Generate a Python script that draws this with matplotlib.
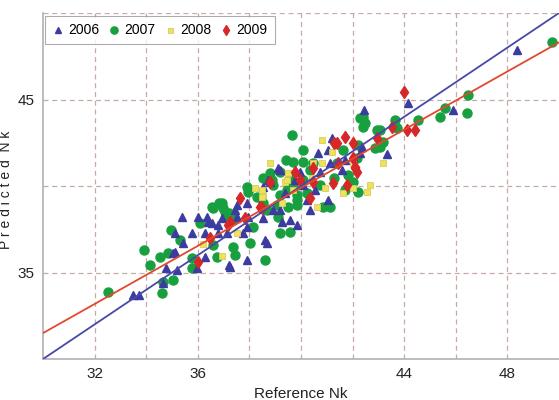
import matplotlib
matplotlib.use("Agg")
import matplotlib.pyplot as plt
import numpy as np

# ---- data ----
x2006 = [33.49, 33.72, 34.65, 34.77, 35.19, 35.04, 35.39, 35.78, 35.43, 35.12, 36.36, 36.40,
         36.28, 36.78, 36.78, 37.21, 37.91, 38.68, 37.13, 37.75, 37.52, 37.95, 38.53, 38.60,
         35.12, 36.28, 35.97, 37.25, 39.11, 38.80, 38.53, 37.91, 37.52, 37.44, 36.01, 36.55,
         36.94, 39.19, 39.57, 37.91, 40.66, 41.05, 39.19, 38.72, 40.74, 41.12, 41.59, 42.02,
         42.29, 43.33, 40.23, 40.35, 39.38, 41.05, 38.91, 40.08, 42.44, 44.15, 45.89, 48.37,
         41.20, 42.36, 39.96, 39.77, 40.55, 41.71, 39.84, 39.26]
y2006 = [33.70, 33.70, 34.39, 35.26, 35.14, 36.13, 38.21, 37.28, 36.71, 37.28, 38.21, 37.92,
         37.28, 37.75, 37.28, 35.43, 35.72, 36.71, 37.28, 37.28, 38.21, 38.21, 38.15, 36.88,
         36.18, 35.90, 35.26, 35.32, 41.04, 40.23, 39.94, 39.02, 38.90, 38.61, 38.21, 37.86,
         38.15, 38.61, 38.03, 37.63, 41.91, 42.08, 40.92, 40.35, 40.81, 41.33, 40.92, 41.68,
         41.91, 41.85, 39.19, 38.61, 39.60, 39.19, 38.61, 40.06, 44.39, 44.80, 44.39, 47.86,
         42.77, 42.25, 40.81, 40.35, 39.77, 41.50, 37.75, 37.92]

x2007 = [32.52, 33.92, 34.15, 34.53, 34.84, 34.65, 34.61, 35.04, 34.96, 35.31, 35.78, 35.78,
         36.09, 36.59, 36.74, 37.36, 37.44, 38.02, 38.14, 38.60, 36.94, 36.55, 37.05, 37.13,
         39.65, 39.42, 39.69, 38.80, 37.91, 37.95, 38.29, 36.82, 36.98, 36.59, 37.21, 37.36,
         38.53, 38.68, 39.07, 39.11, 39.46, 39.84, 40.08, 40.08, 40.47, 39.19, 39.57, 38.53,
         41.40, 41.63, 42.29, 42.40, 42.95, 43.06, 41.82, 42.02, 38.91, 39.69, 40.08, 39.19,
         39.84, 40.23, 39.50, 39.84, 40.85, 41.12, 42.21, 42.40, 42.48, 43.64, 43.72, 43.06,
         43.18, 44.53, 45.39, 45.58, 42.87, 42.21, 42.17, 46.47, 46.43, 49.73, 38.88, 39.57,
         39.19, 40.35, 40.74, 41.28, 41.71]
y2007 = [33.87, 36.30, 35.43, 35.90, 36.13, 34.45, 33.82, 34.57, 37.46, 36.88, 35.84, 35.26,
         37.86, 36.59, 35.90, 36.47, 36.01, 36.71, 37.63, 35.72, 39.02, 38.79, 38.50, 38.21,
         42.95, 41.50, 41.39, 40.75, 39.94, 39.65, 39.36, 39.02, 38.73, 38.73, 38.44, 38.09,
         39.02, 38.61, 38.90, 38.21, 39.77, 39.19, 42.08, 41.39, 41.33, 40.81, 40.46, 40.46,
         41.33, 42.08, 43.93, 43.41, 43.24, 42.25, 40.64, 40.23, 40.06, 40.06, 40.35, 39.48,
         39.48, 39.60, 38.79, 38.90, 38.79, 38.79, 39.65, 43.99, 43.64, 43.82, 43.35, 43.24,
         42.54, 43.82, 43.99, 44.51, 42.20, 42.37, 41.62, 45.26, 44.22, 48.32, 40.35, 37.34,
         37.28, 40.92, 40.06, 40.46, 39.77]

x2008 = [40.81, 41.20, 38.80, 39.38, 40.47, 40.81, 40.43, 42.02, 42.67, 42.56, 43.18, 41.63,
         42.02, 38.53, 40.93, 40.62, 39.69, 38.49, 38.49, 38.22, 39.46, 39.50, 39.26, 36.94,
         36.20, 37.52]
y2008 = [42.66, 41.97, 41.33, 40.23, 41.33, 41.33, 40.46, 41.33, 40.06, 39.65, 41.33, 39.60,
         39.88, 39.48, 39.88, 38.79, 39.77, 39.77, 39.36, 39.88, 40.35, 40.75, 39.02, 35.95,
         36.65, 37.28]

x2009 = [36.01, 36.47, 37.17, 37.83, 38.41, 41.40, 41.71, 42.02, 39.77, 40.47, 41.43, 42.09,
         42.17, 38.80, 41.24, 41.78, 39.96, 40.47, 40.35, 43.99, 44.11, 44.42, 43.53, 42.95,
         41.28, 42.02, 42.09, 37.64, 38.49, 37.25]
y2009 = [35.61, 36.99, 37.75, 38.15, 38.79, 42.49, 42.83, 42.49, 40.81, 41.04, 41.33, 41.04,
         40.81, 40.23, 40.17, 40.06, 40.35, 40.23, 39.31, 45.43, 43.24, 43.24, 43.41, 42.77,
         42.49, 41.62, 41.10, 39.31, 38.73, 37.92]

years = ["2006", "2007", "2008", "2009"]
fit_slope = 0.84
fit_intercept = 6.3
x_range = [30, 50]
x_tick_vals = [32, 34, 36, 38, 40, 42, 44, 46, 48]
x_tick_labels = ["32", "", "36", "", "", "", "44", "", "48"]
y_tick_vals = [35, 40, 45, 50]
y_tick_labels = ["35", "", "45", ""]

plt.rcParams['font.family'] = ['Liberation Sans', 'DejaVu Sans']

fig = plt.figure(figsize=(5.59, 4.0), dpi=100)
ax = fig.add_axes([0.077, 0.1025, 0.923, 0.865])

# reference lines
xr = np.array(x_range, dtype=float)
ax.plot(xr, xr, color="#4848a8", lw=1.3, zorder=4)
ax.plot(xr, fit_slope * xr + fit_intercept, color="#e2482e", lw=1.3, zorder=4)

ax.plot(x2006, y2006, linestyle="none", marker="^", ms=6, color="#3c3ca0",
        mec="#3c3ca0", label=years[0], zorder=3)
ax.plot(x2007, y2007, linestyle="none", marker="o", ms=6.5, color="#18a040",
        mec="#18a040", label=years[1], zorder=2)
ax.plot(x2008, y2008, linestyle="none", marker="s", ms=4.5, color="#eee25a",
        mec="#d8cc60", mew=0.6, label=years[2], zorder=3)
ax.plot(x2009, y2009, linestyle="none", marker="d", ms=6, color="#d62828",
        mec="#d62828", label=years[3], zorder=3)

ax.set_xlim(30, 50)
ax.set_ylim(30, 50)
ax.set_xticks(x_tick_vals)
ax.set_xticklabels(x_tick_labels)
ax.set_yticks(y_tick_vals)
ax.set_yticklabels(y_tick_labels)
ax.tick_params(length=0, labelsize=11, colors="#222222", pad=6)
ax.grid(True, color="#c4aca4", linestyle=(0, (4, 3)), lw=0.9)
ax.set_axisbelow(True)
for s in ["left", "bottom"]:
    ax.spines[s].set_color("#b0b0b0")
    ax.spines[s].set_linewidth(1.2)
for s in ["top", "right"]:
    ax.spines[s].set_visible(False)

ax.set_xlabel("Reference Nk", fontsize=11, labelpad=4, color="#222222")
ax.set_ylabel("P r e d i c t e d  N k", fontsize=10, color="#222222")
ax.yaxis.set_label_coords(-0.058, 0.49)

leg = ax.legend(loc="upper left", ncol=4, frameon=True, fancybox=False, fontsize=10,
                handletextpad=0.3, columnspacing=0.6, handlelength=0.9, markerscale=0.8,
                borderpad=0.5, bbox_to_anchor=(0.003, 0.99), borderaxespad=0.0)
leg.get_frame().set_edgecolor("#999999")
leg.get_frame().set_linewidth(0.8)

fig.savefig("out.png", dpi=100)
